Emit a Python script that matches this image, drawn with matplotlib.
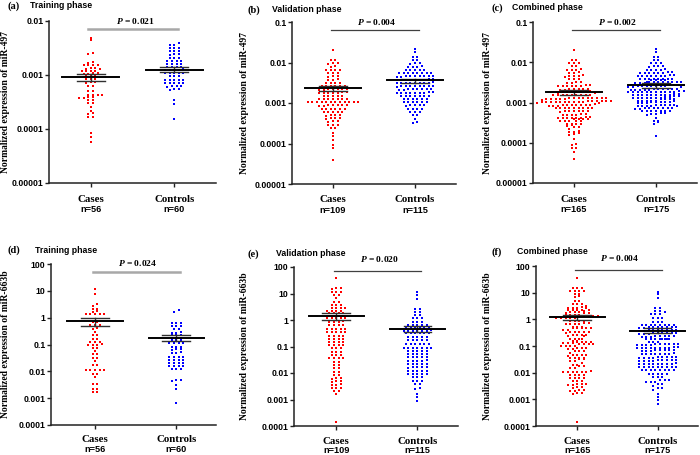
import numpy as np
import matplotlib
matplotlib.use("Agg")
import matplotlib.pyplot as plt

plt.rcParams['mathtext.fontset'] = 'custom'
plt.rcParams['mathtext.it'] = 'Liberation Serif:italic:bold'
plt.rcParams['mathtext.rm'] = 'Liberation Serif:bold'

# ---------------- data ----------------
groups = ["Cases", "Controls"]

mir497_train_cases = [
    0.0049, 0.0044, 0.0026, 0.0025, 0.00175, 0.0017,
    0.00152, 0.0015, 0.00153, 0.00151, 0.00132, 0.0013, 0.00131, 0.00133,
    0.00119, 0.0012, 0.00121, 0.00118, 0.00107, 0.00106, 0.00107, 0.00105,
    0.00095, 0.00094, 0.00096, 0.00084, 0.00083, 0.00084, 0.00073, 0.00073, 0.00072,
    0.00062, 0.00063, 0.00051, 0.0005, 0.00042, 0.00043, 0.00042, 0.00043,
    0.00038, 0.00039, 0.00038, 0.00039, 0.00034, 0.00035, 0.0003, 0.0003,
    0.00026, 0.000215, 0.000195, 0.00019, 0.00017, 0.000168,
    0.0000855, 0.000072, 0.0000583]
mir497_train_controls = [
    0.0039, 0.0036, 0.00365, 0.0032, 0.00315, 0.0032, 0.00275, 0.0028, 0.00275,
    0.0024, 0.0024, 0.00238, 0.0021, 0.00208, 0.0021, 0.0018, 0.00182, 0.0018, 0.00181,
    0.00158, 0.0016, 0.00158, 0.00159, 0.00141, 0.0014, 0.00142, 0.0014,
    0.00126, 0.00125, 0.00126, 0.00127, 0.00125, 0.0011, 0.00109, 0.0011, 0.00111, 0.0011,
    0.00096, 0.00095, 0.00096, 0.00081, 0.00082, 0.00081, 0.0008, 0.00081,
    0.00071, 0.0007, 0.00071, 0.00071, 0.0007, 0.00062, 0.00061, 0.00062, 0.00062,
    0.00054, 0.00053, 0.00054, 0.00034, 0.00029, 0.00015]
mir497_val_cases = [
    0.020, 0.0115, 0.0113, 0.0096, 0.0095, 0.0094, 0.0080, 0.0079,
    0.0066, 0.0067, 0.0065, 0.0066, 0.0055, 0.0056, 0.0054, 0.0046, 0.0045, 0.0046,
    0.0038, 0.0039, 0.0038, 0.0032, 0.0031, 0.0032, 0.0031,
    0.0026, 0.0027, 0.0026, 0.0026, 0.0027, 0.0026,
    0.0022, 0.0022, 0.0021, 0.0022, 0.0022, 0.0021, 0.0022,
    0.0018, 0.0018, 0.0019, 0.0018, 0.0018, 0.0018, 0.0019,
    0.0015, 0.0015, 0.0015, 0.0015, 0.0015,
    0.00126, 0.00125, 0.00127, 0.00126, 0.00125, 0.00126, 0.00127,
    0.00105, 0.00104, 0.00106, 0.00105, 0.00105, 0.00104, 0.00106, 0.00105,
    0.00104, 0.00105, 0.00106, 0.00105,
    0.00087, 0.00088, 0.00086, 0.00087, 0.00087, 0.00088, 0.00086,
    0.00072, 0.00073, 0.00072, 0.00071, 0.00072, 0.00073,
    0.00060, 0.00061, 0.00060, 0.00059, 0.00060,
    0.00050, 0.00051, 0.00050, 0.00049, 0.00042, 0.00041, 0.00042, 0.00042,
    0.00035, 0.00035, 0.00034, 0.00029, 0.00029, 0.00028, 0.00024, 0.00024,
    0.000186, 0.000155, 0.000123, 0.000091, 0.000076, 0.00004]
mir497_val_controls = [
    0.0219, 0.0182, 0.0138, 0.0137, 0.0115, 0.0114, 0.0095, 0.0096, 0.0094,
    0.0079, 0.0080, 0.0078, 0.0079, 0.0066, 0.0065, 0.0066, 0.0067, 0.0066,
    0.0055, 0.0056, 0.0055, 0.0054, 0.0055, 0.0056, 0.0055, 0.0054,
    0.0046, 0.0045, 0.0046, 0.0047, 0.0046, 0.0045, 0.0046, 0.0047, 0.0046,
    0.0038, 0.0039, 0.0038, 0.0037, 0.0038, 0.0039, 0.0038, 0.0037, 0.0038,
    0.0032, 0.0031, 0.0032, 0.0032, 0.0031, 0.0032, 0.0033, 0.0032, 0.0031,
    0.0026, 0.0027, 0.0026, 0.0026, 0.0027, 0.0026, 0.0025, 0.0026, 0.0026,
    0.0022, 0.0022, 0.0021, 0.0022, 0.0022, 0.0021, 0.0022, 0.0022,
    0.0018, 0.0018, 0.0019, 0.0018, 0.0018, 0.0018, 0.0019, 0.0018, 0.0018,
    0.0015, 0.0015, 0.0015, 0.0015, 0.0015, 0.0015, 0.0015,
    0.00126, 0.00125, 0.00127, 0.00126, 0.00125, 0.00126,
    0.00105, 0.00104, 0.00106, 0.00105, 0.00105, 0.00104,
    0.00087, 0.00088, 0.00086, 0.00087, 0.00087,
    0.00072, 0.00073, 0.00072, 0.00071, 0.00060, 0.00061, 0.00060,
    0.00050, 0.00051, 0.00041, 0.00034, 0.00033]

mir663b_train_cases = [
    11.5, 7.5, 3.2, 2.8, 2.1, 2.15, 1.7, 1.68, 1.33, 1.35, 1.32, 1.34, 1.33,
    0.71, 0.70, 0.53, 0.52, 0.53, 0.40, 0.39, 0.295, 0.235, 0.23,
    0.155, 0.154, 0.126, 0.125, 0.127, 0.1, 0.099, 0.101, 0.1,
    0.075, 0.074, 0.056, 0.045, 0.044, 0.032, 0.0315, 0.0235, 0.0178, 0.0176,
    0.011, 0.0109, 0.011, 0.0111, 0.011, 0.0081, 0.008, 0.0062,
    0.0035, 0.0034, 0.0022, 0.00225, 0.00175, 0.0017]
mir663b_train_controls = [
    1.9, 1.6, 0.62, 0.61, 0.62, 0.49, 0.5, 0.49, 0.37, 0.375,
    0.28, 0.285, 0.28, 0.225, 0.22, 0.225, 0.178, 0.18, 0.177, 0.145, 0.144, 0.146,
    0.11, 0.109, 0.111, 0.11, 0.081, 0.082, 0.081, 0.066, 0.065, 0.066,
    0.05, 0.05, 0.051, 0.035, 0.0345, 0.035, 0.0352, 0.0275, 0.0276, 0.027, 0.0275,
    0.021, 0.0208, 0.0209, 0.021, 0.0158, 0.016, 0.0157, 0.0158,
    0.0126, 0.0125, 0.0127, 0.0046, 0.0045, 0.0046, 0.0032, 0.0022, 0.00065]
mir663b_val_cases = [
    37.0, 15.5, 15.3, 15.6, 11.7, 11.8, 11.6, 8.7, 8.6, 6.6, 4.9, 4.85,
    3.7, 3.72, 3.68, 2.75, 2.77, 2.74, 2.76, 2.24, 2.23, 2.25, 2.24,
    1.82, 1.8, 1.83, 1.82, 1.45, 1.44, 1.45, 1.46, 1.15, 1.15, 1.14, 1.16, 1.15,
    0.87, 0.87, 0.88, 0.86, 0.65, 0.645, 0.65, 0.655,
    0.457, 0.455, 0.46, 0.456, 0.457, 0.34, 0.338, 0.34, 0.342, 0.34,
    0.257, 0.256, 0.258, 0.257, 0.19, 0.191, 0.19, 0.189,
    0.145, 0.144, 0.146, 0.145, 0.115, 0.114, 0.116, 0.115,
    0.085, 0.086, 0.085, 0.063, 0.063, 0.064, 0.048, 0.0475, 0.048,
    0.0355, 0.0354, 0.0356, 0.0355, 0.027, 0.0268, 0.02, 0.0198, 0.015, 0.0151,
    0.011, 0.0109, 0.0083, 0.0084, 0.0063, 0.0063, 0.0062, 0.0048, 0.0047, 0.0048,
    0.0036, 0.0037, 0.0036, 0.0028, 0.00275, 0.0028, 0.0021, 0.00208, 0.0016,
    0.000145]
mir663b_val_controls = [
    11.0, 8.7, 6.3, 2.6, 2.65, 2.05, 2.03, 1.55, 1.56, 1.15, 1.14, 1.16,
    0.81, 0.82, 0.81, 0.63, 0.625, 0.63, 0.635, 0.63,
    0.5, 0.505, 0.5, 0.495, 0.5, 0.505, 0.4, 0.398, 0.4, 0.402, 0.4, 0.399, 0.401,
    0.316, 0.315, 0.317, 0.316, 0.314, 0.316, 0.235, 0.234, 0.236, 0.235, 0.233,
    0.178, 0.177, 0.179, 0.178, 0.178, 0.123, 0.122, 0.124, 0.123, 0.123, 0.122,
    0.087, 0.088, 0.087, 0.086, 0.087, 0.088, 0.087, 0.069, 0.07, 0.069, 0.068, 0.069,
    0.052, 0.053, 0.052, 0.052, 0.051, 0.039, 0.0388, 0.0392, 0.039, 0.0389,
    0.0295, 0.0296, 0.0294, 0.0295, 0.0297, 0.022, 0.0219, 0.0221, 0.022, 0.0218,
    0.0162, 0.0163, 0.0161, 0.0162, 0.0164, 0.0123, 0.0122, 0.0124, 0.0123, 0.0123,
    0.0091, 0.0092, 0.009, 0.0091, 0.0091, 0.0069, 0.0069, 0.007,
    0.0051, 0.0052, 0.0051, 0.0039, 0.0039, 0.0026, 0.00265, 0.0016, 0.0012, 0.00091]

# combined phase = training + validation
mir497_comb_cases = mir497_train_cases + mir497_val_cases
mir497_comb_controls = mir497_train_controls + mir497_val_controls
mir663b_comb_cases = mir663b_train_cases + mir663b_val_cases
mir663b_comb_controls = mir663b_train_controls + mir663b_val_controls

# mean and SEM as shown (cases, controls)
means = {"a": [0.00091, 0.00126], "b": [0.0023, 0.0036], "c": [0.0018, 0.0027],
         "d": [0.75, 0.18], "e": [1.45, 0.47], "f": [1.22, 0.38]}
sems = {"a": [0.00013, 0.00013], "b": [0.0003, 0.0004], "c": [0.00025, 0.00035],
        "d": [0.25, 0.05], "e": [0.42, 0.12], "f": [0.28, 0.075]}
p_values = {"a": "0.021", "b": "0.004", "c": "0.002", "d": "0.024", "e": "0.020", "f": "0.004"}
phases = {"a": "Training phase", "b": "Validation phase", "c": "Combined phase",
          "d": "Training phase", "e": "Validation phase", "f": "Combined phase"}
ylabels = {"top": "Normalized expression of miR-497", "bottom": "Normalized expression of miR-663b"}
yticks_top = [1e-5, 1e-4, 1e-3, 1e-2, 1e-1]
yticklabels_top = ["0.00001", "0.0001", "0.001", "0.01", "0.1"]
yticks_bot = [1e-4, 1e-3, 1e-2, 1e-1, 1, 10, 100]
yticklabels_bot = ["0.0001", "0.001", "0.01", "0.1", "1", "10", "100"]

data = {
    "a": (mir497_train_cases, mir497_train_controls),
    "b": (mir497_val_cases, mir497_val_controls),
    "c": (mir497_comb_cases, mir497_comb_controls),
    "d": (mir663b_train_cases, mir663b_train_controls),
    "e": (mir663b_val_cases, mir663b_val_controls),
    "f": (mir663b_comb_cases, mir663b_comb_controls),
}

# ---------------- layout ----------------
W, H = 700, 455
fig = plt.figure(figsize=(7, 4.55), dpi=100)

layout = {
    "a": dict(rect=(49, 216, 21, 183), xlim=(0.5, 2.5), ylim=(1e-5, 1e-2), py=0.0071, tpx=8, pc="#a8a8a8", plw=1.8),
    "b": dict(rect=(292, 456, 22, 184), xlim=(0.5, 2.5), ylim=(1e-5, 1e-1), py=0.064, tpx=8, pc="#404040", plw=0.9),
    "c": dict(rect=(533, 697, 22, 183), xlim=(0.5, 2.5), ylim=(1e-5, 1e-1), py=0.064, tpx=8, pc="#404040", plw=0.9),
    "d": dict(rect=(51, 216, 264, 425), xlim=(0.457, 2.49), ylim=(1e-4, 100), py=49, tpx=9, pc="#a8a8a8", plw=1.8),
    "e": dict(rect=(294, 458, 267, 426), xlim=(0.48, 2.5), ylim=(1e-4, 100), py=68, tpx=12, pc="#404040", plw=0.9),
    "f": dict(rect=(536, 698, 266, 426), xlim=(0.49, 2.5), ylim=(1e-4, 100), py=68, tpx=12, pc="#404040", plw=0.9),
}
title_pos = {
    "a": (8, 30, 6), "b": (247, 272, 10), "c": (491, 512, 8),
    "d": (8, 35, 250), "e": (247, 276, 254), "f": (491, 517, 252),
}
ylabel_x = {"a": 6, "b": 245, "c": 487, "d": 6, "e": 245, "f": 487}

SERIF = "Liberation Serif"
SANS = "Liberation Sans"
colors = ["#ff0000", "#0000ff"]


def swarm_x(ax, center, values, dx_px=4.6, dy_px=2.4):
    vals = np.asarray(values, float)
    order = np.argsort(vals)
    disp = ax.transData.transform(np.column_stack([np.full(len(vals), center), vals]))
    dy = disp[:, 1]
    ppu = ax.transData.transform((center + 1, vals[0]))[0] - ax.transData.transform((center, vals[0]))[0]
    xs = np.empty(len(vals))
    rows, cur, start = [], [], None
    for i in order:
        if start is None or dy[i] - start > dy_px:
            if cur:
                rows.append(cur)
            cur, start = [i], dy[i]
        else:
            cur.append(i)
    rows.append(cur)
    for r in rows:
        n = len(r)
        for k, i in enumerate(r):
            xs[i] = center + (k - (n - 1) / 2) * dx_px / ppu
    return xs


for key in "abcdef":
    L = layout[key]
    l, r, t, b = L["rect"]
    ax = fig.add_axes([l / W, 1 - b / H, (r - l) / W, (b - t) / H])
    ax.set_yscale("log")
    top = key in "abc"
    ticks = yticks_top if top else yticks_bot
    labels = yticklabels_top if top else yticklabels_bot
    lo, hi = L["ylim"]
    keep = [i for i, tv in enumerate(ticks) if lo * 0.999 <= tv <= hi * 1.001]
    ax.set_yticks([ticks[i] for i in keep])
    ax.set_yticklabels([labels[i] for i in keep])
    ax.yaxis.set_minor_locator(matplotlib.ticker.NullLocator())
    ax.set_xticks([1, 2])
    ax.set_xticklabels(["", ""])
    ax.set_xlim(*L["xlim"])
    ax.set_ylim(lo, hi)
    for s in ["top", "right"]:
        ax.spines[s].set_visible(False)
    for s in ["left", "bottom"]:
        ax.spines[s].set_linewidth(1.1)
        ax.spines[s].set_color("#222222")
    ax.tick_params(axis="both", which="major", length=3, width=1.0, color="#222222", pad=1)
    for lab in ax.get_yticklabels():
        lab.set_fontfamily(SANS)
        lab.set_fontweight("bold")
        lab.set_fontsize(6.3)
    ax.patch.set_alpha(0)

    ns = []
    for gi, vals in enumerate(data[key]):
        center = gi + 1
        xs = swarm_x(ax, center, vals)
        ax.scatter(xs, vals, s=3.8, marker="s", color=colors[gi], linewidths=0, zorder=2)
        m = means[key][gi]
        se = sems[key][gi]
        ax.plot([center - 0.17, center + 0.17], [m - se, m - se], color="#303030", lw=1.0, zorder=3)
        ax.plot([center - 0.17, center + 0.17], [m + se, m + se], color="#303030", lw=1.0, zorder=3)
        ax.plot([center, center], [m - se, m + se], color="#303030", lw=1.0, zorder=3)
        ax.plot([center - 0.34, center + 0.34], [m, m], color="black", lw=1.4, zorder=4)
        ns.append(len(vals))

    ax.plot([0.97, 2.05], [L["py"], L["py"]], color=L["pc"], lw=L["plw"], clip_on=False, zorder=1)
    ax.annotate("$\\mathit{P}$ = " + p_values[key], xy=(1.53, L["py"]), xycoords="data",
                xytext=(0, L["tpx"] * 0.72), textcoords="offset points",
                ha="center", va="center", fontsize=6.8, fontfamily=SERIF, fontweight="bold",
                annotation_clip=False)

    off1 = 16 if top else 15
    off2 = 26.5 if top else 24.5
    for gi, g in enumerate(groups):
        ax.annotate(g, xy=(gi + 1, 0), xycoords=("data", "axes fraction"),
                    xytext=(0, -off1 * 0.72), textcoords="offset points",
                    ha="center", va="center", fontsize=7.8, fontfamily=SERIF, fontweight="bold")
        ax.annotate("n=%d" % ns[gi], xy=(gi + 1, 0), xycoords=("data", "axes fraction"),
                    xytext=(0, -off2 * 0.72), textcoords="offset points",
                    ha="center", va="center", fontsize=6.6, fontfamily=SANS, fontweight="bold")

    lx, px_, ty = title_pos[key]
    fig.text(lx / W, 1 - ty / H, "(%s)" % key, ha="left", va="center",
             fontsize=7.5, fontfamily=SERIF, fontweight="bold")
    fig.text(px_ / W, 1 - ty / H, phases[key], ha="left", va="center",
             fontsize=6.3, fontfamily=SANS, fontweight="bold")
    fig.text(ylabel_x[key] / W, 1 - ((t + b) / 2) / H, ylabels["top" if top else "bottom"],
             rotation=90, ha="center", va="center", fontsize=6.9, fontfamily=SERIF, fontweight="bold")

fig.savefig("out.png", dpi=100)
